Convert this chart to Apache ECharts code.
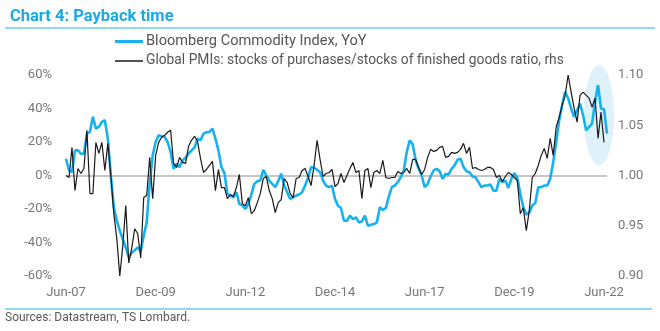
<!DOCTYPE html>
<html>
<head>
<meta charset="utf-8">
<script src="https://cdn.jsdelivr.net/npm/echarts@6/dist/echarts.min.js"></script>
<style>
  html, body { margin: 0; padding: 0; background: #ffffff; }
  #chart { width: 660px; height: 331px; }
</style>
</head>
<body>
<div id="chart"></div>
<script>
// ---- Data (monthly, Jun-07 onward) ----
const tickLabels = ['Jun-07', 'Dec-09', 'Jun-12', 'Dec-14', 'Jun-17', 'Dec-19', 'Jun-22'];

// Bloomberg Commodity Index, YoY (%), left axis
const bcomYoY = [
  10, 3, 2, 15, 15, 13, 13, 25, 26, 35,
  28, 29, 32, 33, 22, 0, -19, -27, -33, -38,
  -43, -49, -46, -44.6, -43, -45, -36, -28, -5, 12,
  20, 24, 23.4, 23, 20, 14, 4, 7, 5, 9,
  10.6, 13, 15, 16.6, 22, 21, 25, 25.8, 26, 28,
  22, 15, 5, 1.4, -11, -12, -13, -10, -17, -18,
  -20, -17, -11.4, -5, -3.4, -3, 3.4, 0, -3, -5,
  -7, -3.4, 1, -6, -10, -14, -13, -12, -11.4, -10,
  -6, -1.4, 5, 4.6, 3.4, 2, -3, -6, -7, -6,
  -14, -18, -19.4, -27, -27, -24, -26, -25, -28, -27.4,
  -24, -30, -29.4, -29, -28, -19, -20.6, -19.4, -12.6, -7,
  -6, -4, -1, 3, 14, 21, 18.6, 9, 4, 0,
  -7, -5, -0.6, 3, 4, 2.6, -2, 1, 0.6, 4,
  6, 9.4, 10, 5, 2.6, 2, -0.6, -1, -4, -7,
  -6, -6, -5.4, -9, -9, -2, -4, -3, -7.4, -2,
  1.4, -1.4, -11, -19, -23.4, -22, -18, -16.4, -7, -7,
  -6, -6, -2, 8, 20, 33, 42, 50, 46, 40,
  35, 39, 43, 36, 27, 29, 31, 44, 54, 40,
  39.5, 25
];

// Global PMIs: stocks of purchases / stocks of finished goods ratio, right axis
const pmiRatio = [
  1.000, 0.998, 1.028, 0.985, 1.007, 1.002, 1.007, 1.045, 0.982, 0.982,
  1.033, 1.022, 1.033, 1.005, 1.032, 1.000, 0.962, 0.937, 0.900, 0.930,
  0.970, 0.913, 0.928, 0.947, 0.942, 0.918, 0.978, 0.980, 1.018, 0.977,
  1.020, 1.033, 1.038, 1.040, 1.043, 1.045, 1.012, 1.008, 1.018, 1.013,
  1.012, 1.029, 1.035, 1.039, 1.034, 1.017, 1.003, 1.006, 1.010, 1.014,
  0.985, 1.006, 0.988, 0.988, 0.977, 0.981, 0.979, 0.988, 1.001, 0.972,
  0.970, 0.978, 0.962, 0.965, 0.973, 0.982, 0.997, 0.999, 0.985, 0.977,
  0.963, 0.973, 0.976, 0.997, 0.993, 0.982, 0.978, 0.997, 0.998, 1.005,
  1.007, 0.999, 0.990, 1.010, 1.035, 1.016, 0.999, 1.002, 1.003, 1.006,
  0.989, 0.992, 1.002, 0.993, 1.000, 1.007, 1.013, 1.003, 1.005, 0.977,
  1.005, 1.007, 0.988, 1.003, 1.005, 1.002, 1.015, 0.998, 0.997, 0.998,
  0.998, 1.004, 1.002, 1.003, 1.007, 1.002, 1.016, 1.016, 1.008, 1.001,
  1.006, 1.018, 1.026, 1.024, 1.025, 1.028, 1.029, 1.018, 1.019, 1.023,
  1.022, 1.023, 1.026, 1.032, 1.022, 1.028, 1.007, 1.008, 1.006, 1.005,
  1.006, 1.008, 1.008, 1.006, 0.998, 1.000, 0.994, 0.999, 1.003, 1.001,
  0.998, 0.995, 0.962, 0.968, 0.945, 0.965, 0.998, 1.002, 1.010, 1.020,
  1.027, 1.017, 1.037, 1.020, 1.048, 1.058, 1.070, 1.080, 1.100, 1.083,
  1.067, 1.053, 1.080, 1.083, 1.080, 1.077, 1.068, 1.077, 1.037, 1.063,
  1.033, null
];

const leftTicks = { min: -60, max: 60, interval: 20 };
const rightTicks = { min: 0.90, max: 1.10, interval: 0.05 };

const seriesNames = [
  'Bloomberg Commodity Index, YoY',
  'Global PMIs: stocks of purchases/stocks of finished goods ratio, rhs'
];

// Month category labels
const monAbbr = ['Jan','Feb','Mar','Apr','May','Jun','Jul','Aug','Sep','Oct','Nov','Dec'];
const categories = [];
for (let i = 0; i < bcomYoY.length; i++) {
  const t = 2007 * 12 + 5 + i;
  const y = Math.floor(t / 12) % 100;
  categories.push(monAbbr[t % 12] + '-' + String(y).padStart(2, '0'));
}

const BLUE = '#16b2f0';
const BLACK = '#1a1a1a';
const FONT = 'Roboto, "Noto Sans", sans-serif';

const chart = echarts.init(document.getElementById('chart'), null, { renderer: 'canvas' });

chart.setOption({
  animation: false,
  backgroundColor: '#ffffff',
  textStyle: { fontFamily: FONT },
  title: {
    text: 'Chart 4: Payback time',
    left: 5,
    top: 3,
    textStyle: { fontFamily: FONT, fontSize: 16.5, fontWeight: 'bold', color: '#1aa9e6' }
  },
  legend: [
    {
      data: [seriesNames[0]],
      left: 115,
      top: 34,
      icon: 'rect',
      itemWidth: 28,
      itemHeight: 3,
      padding: 0,
      textStyle: { fontFamily: FONT, fontSize: 14.6, color: '#555555', padding: [0, 0, 0, -2] },
      selectedMode: false
    },
    {
      data: [seriesNames[1]],
      left: 115,
      top: 54,
      icon: 'rect',
      itemWidth: 28,
      itemHeight: 1.5,
      padding: 0,
      textStyle: { fontFamily: FONT, fontSize: 13.8, color: '#555555', padding: [0, 0, 0, -2] },
      selectedMode: false
    }
  ],
  grid: { left: 66, right: 53, top: 75, bottom: 55, containLabel: false },
  xAxis: {
    type: 'category',
    data: categories,
    boundaryGap: false,
    axisLine: { show: false },
    axisTick: { show: false },
    splitLine: { show: false },
    axisLabel: {
      interval: function (idx, val) { return tickLabels.indexOf(val) >= 0; },
      color: '#777777',
      fontFamily: FONT,
      fontSize: 13,
      margin: 10
    }
  },
  yAxis: [
    {
      type: 'value',
      min: leftTicks.min, max: leftTicks.max, interval: leftTicks.interval,
      axisLine: { show: false },
      axisTick: { show: false },
      splitLine: { show: false },
      axisLabel: {
        formatter: '{value}%',
        color: '#777777',
        fontFamily: FONT,
        fontSize: 13,
        margin: 14
      }
    },
    {
      type: 'value',
      min: rightTicks.min, max: rightTicks.max, interval: rightTicks.interval,
      axisLine: { show: false },
      axisTick: { show: false },
      splitLine: { show: false },
      axisLabel: {
        formatter: function (v) { return v.toFixed(2); },
        color: '#777777',
        fontFamily: FONT,
        fontSize: 13,
        margin: 11
      }
    }
  ],
  graphic: [
    {
      type: 'ellipse',
      z: -10,
      shape: { cx: 599, cy: 115, rx: 15, ry: 50 },
      style: { fill: '#dff2fc' },
      silent: true
    },
    {
      type: 'line',
      shape: { x1: 5, y1: 28, x2: 655, y2: 28 },
      style: { stroke: '#6ccdf3', lineWidth: 1.5 },
      silent: true
    },
    {
      type: 'line',
      shape: { x1: 5, y1: 309, x2: 652, y2: 309 },
      style: { stroke: '#6ccdf3', lineWidth: 1.5 },
      silent: true
    },
    {
      type: 'text',
      left: 5,
      top: 312,
      style: {
        text: 'Sources: Datastream, TS Lombard.',
        fill: '#595959',
        font: '12px ' + FONT
      },
      silent: true
    }
  ],
  series: [
    {
      name: seriesNames[0],
      type: 'line',
      yAxisIndex: 0,
      data: bcomYoY,
      showSymbol: false,
      symbol: 'none',
      lineStyle: { color: BLUE, width: 2.6 },
      itemStyle: { color: BLUE },
      z: 3,
      markLine: {
        silent: true,
        symbol: ['none', 'none'],
        label: { show: false },
        lineStyle: { color: '#b3b3b3', width: 1.5, type: 'solid' },
        data: [{ yAxis: 0 }],
        z: 1
      }
    },
    {
      name: seriesNames[1],
      type: 'line',
      yAxisIndex: 1,
      data: pmiRatio,
      showSymbol: false,
      symbol: 'none',
      connectNulls: false,
      lineStyle: { color: BLACK, width: 1.2 },
      itemStyle: { color: BLACK },
      z: 4
    }
  ]
});
</script>
</body>
</html>
